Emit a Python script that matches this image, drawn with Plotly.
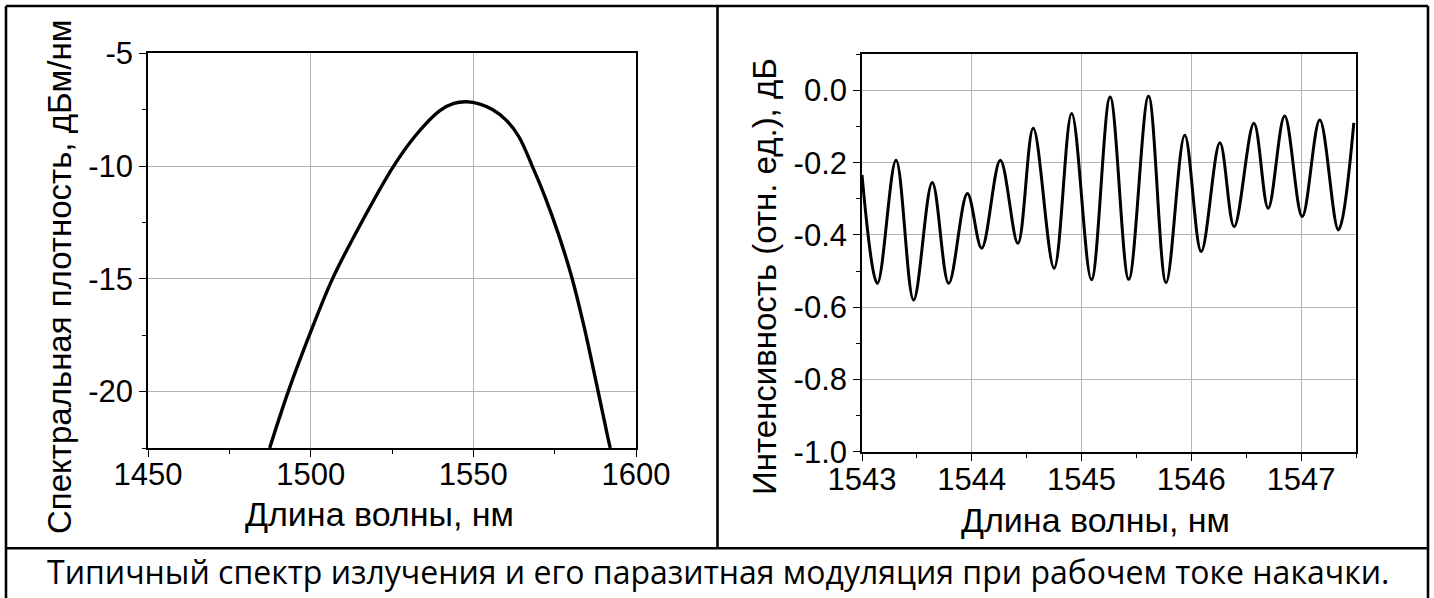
import plotly.graph_objects as go

# ---------------- data ----------------
# Left panel: emission spectrum
spec_wavelength_nm = [1487.4, 1493.1, 1499.6, 1506.7, 1516.0, 1525.5, 1532.5, 1539.6,
                      1544.0, 1548.0, 1552.0, 1556.0, 1560.0, 1564.0, 1568.1, 1572.0,
                      1576.0, 1580.0, 1584.0, 1588.0, 1591.6, 1592.1]
spec_density_dbm = [-22.5, -20.0, -17.5, -15.0, -12.4, -10.0, -8.6, -7.55,
                    -7.22, -7.15, -7.25, -7.5, -7.95, -8.7, -10.0, -11.35,
                    -12.95, -14.8, -17.1, -19.75, -22.2, -22.5]

# Right panel: parasitic modulation (extrema)
mod_wavelength_nm = [1543.00, 1543.14, 1543.31, 1543.47, 1543.64, 1543.79, 1543.96,
                     1544.09, 1544.26, 1544.42, 1544.56, 1544.75, 1544.91, 1545.09,
                     1545.26, 1545.43, 1545.61, 1545.77, 1545.94, 1546.09, 1546.26,
                     1546.39, 1546.57, 1546.70, 1546.85, 1547.01, 1547.17, 1547.34,
                     1547.48]
mod_intensity_db = [-0.234, -0.534, -0.193, -0.580, -0.255, -0.534, -0.285,
                    -0.437, -0.193, -0.423, -0.105, -0.492, -0.064, -0.524,
                    -0.018, -0.523, -0.016, -0.532, -0.124, -0.446, -0.145,
                    -0.377, -0.091, -0.326, -0.071, -0.349, -0.082, -0.386,
                    -0.090]

left_xticks = [1450, 1500, 1550, 1600]
left_yticks = [-5, -10, -15, -20]
left_yticklabels = ["-5", "-10", "-15", "-20"]
right_xticks = [1543, 1544, 1545, 1546, 1547]
right_yticks = [0.0, -0.2, -0.4, -0.6, -0.8, -1.0]
right_yticklabels = ["0.0", "-0.2", "-0.4", "-0.6", "-0.8", "-1.0"]

x_title = "Длина волны, нм"
left_y_title = "Спектральная плотность, дБм/нм"
right_y_title = "Интенсивность (отн. ед.), дБ"
caption = "Типичный спектр излучения и его паразитная модуляция при рабочем токе накачки."

# ---------------- figure ----------------
W, H = 1434, 598
FAMILY = "Liberation Sans, Arial, sans-serif"
TICK_FONT = dict(family=FAMILY, size=31, color="black")
TITLE_FONT = dict(family=FAMILY, size=33, color="black")
XTITLE_FONT = dict(family=FAMILY, size=34, color="black")
GRID = "#b3b3b3"

fig = go.Figure()
fig.add_trace(go.Scatter(x=spec_wavelength_nm, y=spec_density_dbm, mode="lines",
                         line=dict(color="black", width=3.4, shape="spline", smoothing=1.0),
                         xaxis="x", yaxis="y", showlegend=False, hoverinfo="skip"))
fig.add_trace(go.Scatter(x=mod_wavelength_nm, y=mod_intensity_db, mode="lines",
                         line=dict(color="black", width=3.0, shape="spline", smoothing=1.0),
                         xaxis="x2", yaxis="y2", showlegend=False, hoverinfo="skip"))


def px_x(p):
    return p / W


def px_y(p):
    return 1 - p / H


common = dict(showline=True, linecolor="black", linewidth=1.6, mirror=True,
              ticks="outside", ticklen=7, tickwidth=1.4, tickcolor="black",
              showgrid=True, gridcolor=GRID, gridwidth=1.2, zeroline=False,
              automargin=False, tickfont=TICK_FONT)

minor_common = dict(ticks="outside", ticklen=4, tickwidth=1.4, tickcolor="black",
                    showgrid=False)

fig.update_layout(
    template="plotly_white",
    width=W, height=H,
    margin=dict(l=0, r=0, t=0, b=0, autoexpand=False),
    paper_bgcolor="white", plot_bgcolor="white",
    xaxis=dict(domain=[px_x(148), px_x(636)], range=[1450, 1600], anchor="y",
               tickvals=left_xticks, ticklabelstandoff=-9,
               minor=dict(dtick=25, tick0=1450, **minor_common),
               **common),
    yaxis=dict(domain=[px_y(448), px_y(53.3)], range=[-22.5, -5], anchor="x",
               tickvals=left_yticks, ticktext=left_yticklabels, ticklabelstandoff=0,
               minor=dict(dtick=2.5, tick0=-5, **minor_common),
               **common),
    xaxis2=dict(domain=[px_x(862), px_x(1356)], range=[1543, 1547.5], anchor="y2",
                tickvals=right_xticks, ticklabelstandoff=-8,
                minor=dict(dtick=0.5, tick0=1543, **minor_common),
                **common),
    yaxis2=dict(domain=[px_y(451.7), px_y(54.3)], range=[-1.0, 0.1], anchor="x2",
                tickvals=right_yticks, ticktext=right_yticklabels,
                minor=dict(dtick=0.1, tick0=0, **minor_common),
                **common),
)

# axis titles (placed as in the reference, slightly off the panel centres)
fig.add_annotation(text=x_title, xref="paper", yref="paper", x=px_x(379), y=px_y(514),
                   xanchor="center", yanchor="middle", showarrow=False, font=XTITLE_FONT)
fig.add_annotation(text=x_title, xref="paper", yref="paper", x=px_x(1095), y=px_y(520),
                   xanchor="center", yanchor="middle", showarrow=False, font=XTITLE_FONT)
fig.add_annotation(text=left_y_title, xref="paper", yref="paper", x=px_x(59), y=px_y(277),
                   xanchor="center", yanchor="middle", textangle=-90, showarrow=False,
                   font=TITLE_FONT)
fig.add_annotation(text=right_y_title, xref="paper", yref="paper", x=px_x(764), y=px_y(276),
                   xanchor="center", yanchor="middle", textangle=-90, showarrow=False,
                   font=TITLE_FONT)

# table-like frame around the two panels and the caption row
frame = dict(color="black", width=2.6)
fig.add_shape(type="line", xref="paper", yref="paper", x0=px_x(6), x1=px_x(1428),
              y0=px_y(6), y1=px_y(6), line=frame)
fig.add_shape(type="line", xref="paper", yref="paper", x0=px_x(6), x1=px_x(6),
              y0=px_y(6), y1=px_y(600), line=frame)
fig.add_shape(type="line", xref="paper", yref="paper", x0=px_x(1428), x1=px_x(1428),
              y0=px_y(6), y1=px_y(600), line=frame)
fig.add_shape(type="line", xref="paper", yref="paper", x0=px_x(6), x1=px_x(1428),
              y0=px_y(548.3), y1=px_y(548.3), line=frame)
fig.add_shape(type="line", xref="paper", yref="paper", x0=px_x(717.5), x1=px_x(717.5),
              y0=px_y(6), y1=px_y(548.3), line=frame)

fig.add_annotation(text=caption, xref="paper", yref="paper", x=px_x(718), y=px_y(571),
                   xanchor="center", yanchor="middle", showarrow=False,
                   font=dict(family="Open Sans, Noto Sans, sans-serif", size=32, color="black"))

# the page's default 8px body margin would shift the fixed-size figure; remove it
fig.write_html("out.html", config={"displayModeBar": False},
               post_script="document.body.style.margin='0';document.body.style.overflow='hidden';")
